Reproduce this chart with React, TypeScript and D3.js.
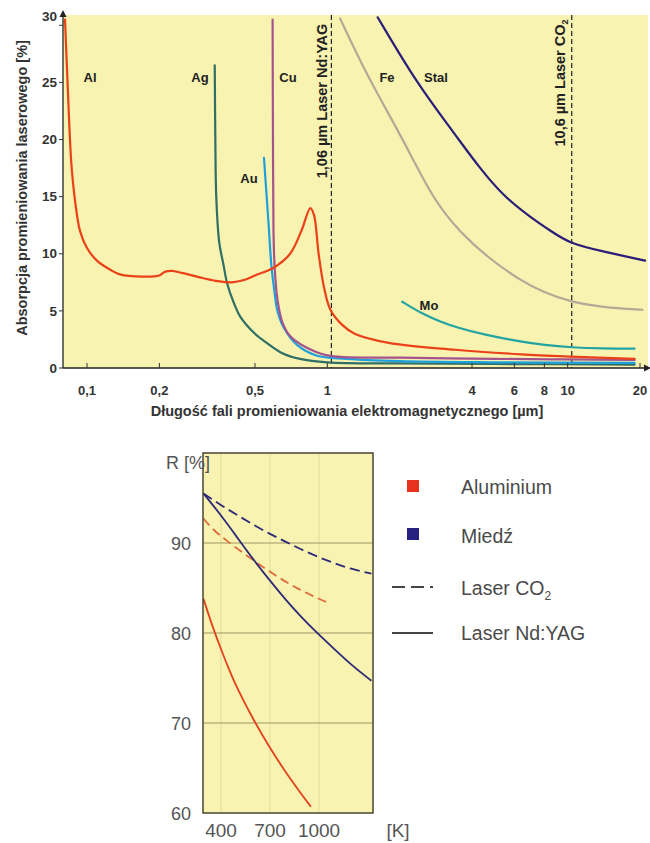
import React, { useRef, useEffect } from 'react';
import * as d3 from 'd3';

type Pt = [number, number];

// --- top chart: absorption vs wavelength [µm, %] ---
const alCurve: Pt[] = [
  [0.081, 30.5], [0.083, 25], [0.086, 18], [0.089, 14.8], [0.0935, 12], [0.1, 10.5], [0.11, 9.4],
  [0.125, 8.6], [0.137, 8.2], [0.17, 8.0], [0.2, 8.1], [0.21, 8.4], [0.225, 8.5], [0.25, 8.3],
  [0.3, 7.9], [0.35, 7.6], [0.4, 7.5], [0.45, 7.7], [0.5, 8.1], [0.6, 8.8], [0.7, 10.0],
  [0.78, 12], [0.85, 14.0], [0.88, 13.4], [0.92, 10], [0.97, 7], [1.03, 5.1], [1.15, 3.8],
  [1.3, 3.0], [1.8, 2.2], [3.4, 1.6], [6.4, 1.2], [10.3, 1.0], [19, 0.8],
];
const agCurve: Pt[] = [
  [0.34, 26.5], [0.342, 20], [0.345, 15], [0.355, 11], [0.37, 9], [0.383, 7.4], [0.41, 5.6],
  [0.434, 4.5], [0.5, 3], [0.56, 2.2], [0.65, 1.3], [0.77, 0.8], [1, 0.5], [2, 0.4], [5, 0.35], [19, 0.3],
];
const cuCurve: Pt[] = [
  [0.592, 30.5], [0.594, 20], [0.597, 12], [0.603, 9], [0.62, 6], [0.65, 4], [0.7, 2.8],
  [0.8, 1.9], [1, 1.1], [2, 0.9], [5, 0.8], [10, 0.75], [19, 0.7],
];
const auCurve: Pt[] = [
  [0.545, 18.4], [0.555, 16], [0.57, 12.5], [0.585, 9], [0.6, 7], [0.62, 5], [0.66, 3.5],
  [0.75, 2], [0.9, 1.1], [1.2, 0.8], [2, 0.6], [5, 0.5], [19, 0.45],
];
const moCurve: Pt[] = [
  [2.05, 5.8], [2.5, 4.7], [3, 4.0], [3.4, 3.6], [4.5, 2.9], [6.4, 2.3], [8, 2.0],
  [10.3, 1.8], [14, 1.7], [19, 1.7],
];
const feCurve: Pt[] = [
  [1.13, 30.6], [1.47, 25.5], [2.07, 20], [2.76, 14.7], [3.6, 11.8], [4.64, 9.7],
  [6.3, 7.7], [8, 6.6], [10.2, 5.8], [14, 5.3], [20.5, 5.1],
];
const stalCurve: Pt[] = [
  [1.62, 30.7], [2.36, 24.9], [3.36, 20.6], [4.3, 17.5], [5.43, 15], [7, 13.2],
  [8.5, 12], [10.2, 10.9], [14, 10.2], [21, 9.4],
];
const topXTicks = [0.1, 0.2, 0.5, 1, 4, 6, 8, 10, 20];
const topYTicks = [0, 5, 10, 15, 20, 25, 30];
const laserLines = [1.06, 10.6];

// --- bottom chart: reflectivity vs temperature [K, %] ---
const alYag: Pt[] = [
  [293, 83.8], [350, 80.6], [400, 78.2], [450, 75.9], [500, 73.8], [600, 70.3],
  [700, 67.2], [800, 64.4], [900, 61.9], [950, 60.7],
];
const alCo2: Pt[] = [
  [293, 92.7], [350, 91.5], [430, 90.3], [550, 88.7], [650, 87.4], [750, 86.2],
  [850, 85.1], [950, 84.2], [1050, 83.4],
];
const cuYag: Pt[] = [
  [293, 95.5], [400, 93.1], [500, 90.6], [600, 88.1], [700, 85.8], [800, 83.6],
  [900, 81.6], [1000, 79.8], [1100, 78.1], [1200, 76.4], [1320, 74.7],
];
const cuCo2: Pt[] = [
  [293, 95.5], [400, 94.2], [500, 93.1], [600, 92.0], [700, 91.0], [800, 90.1],
  [900, 89.2], [1000, 88.4], [1100, 87.7], [1200, 87.1], [1320, 86.6],
];
const botXTicks = [400, 700, 1000];
const botYTicks = [60, 70, 80, 90];

const YELLOW = '#f8f3b0';
const FONT = 'Liberation Sans, Arial, sans-serif';

export default function App() {
  const svgRef = useRef<SVGSVGElement>(null);

  useEffect(() => {
    const svg = d3.select(svgRef.current);
    svg.selectAll('*').remove();

    // ================= top chart =================
    const x = d3.scaleLog().domain([0.1, 20]).range([87, 640]);
    const y = d3.scaleLinear().domain([0, 30.9]).range([368, 15]);
    const left = 63, right = 648, top = 15, bottom = 368;

    svg.append('rect')
      .attr('x', left).attr('y', top)
      .attr('width', right - left).attr('height', bottom - top)
      .attr('fill', YELLOW);

    svg.append('clipPath').attr('id', 'topclip')
      .append('rect')
      .attr('x', left).attr('y', top - 2)
      .attr('width', right - left).attr('height', bottom - top + 2);

    // laser dashed lines
    svg.append('g').selectAll('line')
      .data(laserLines)
      .join('line')
      .attr('x1', d => x(d) - 2).attr('x2', d => x(d) - 2)
      .attr('y1', top).attr('y2', bottom)
      .attr('stroke', '#222')
      .attr('stroke-width', 1.2)
      .attr('stroke-dasharray', '5,3');

    const sharp = d3.line<Pt>()
      .x(d => x(d[0]))
      .y(d => y(d[1]))
      .curve(d3.curveCatmullRom.alpha(0.5));
    const smooth = d3.line<Pt>()
      .x(d => x(d[0]))
      .y(d => y(d[1]))
      .curve(d3.curveBasis);

    const series: [Pt[], string, boolean][] = [
      [feCurve, '#b3a996', true],
      [stalCurve, '#2b1d78', true],
      [moCurve, '#23a3a3', true],
      [agCurve, '#2f6f66', false],
      [auCurve, '#1ea0dc', false],
      [cuCurve, '#a4538c', false],
      [alCurve, '#ea4119', false],
    ];
    const curves = svg.append('g').attr('clip-path', 'url(#topclip)');
    series.forEach(([data, color, isSmooth]) => {
      curves.append('path')
        .datum(data)
        .attr('fill', 'none')
        .attr('stroke', color)
        .attr('stroke-width', 2.2)
        .attr('stroke-linecap', 'round')
        .attr('d', isSmooth ? smooth : sharp);
    });

    // axes
    svg.append('line')
      .attr('x1', left).attr('x2', right)
      .attr('y1', bottom).attr('y2', bottom)
      .attr('stroke', '#222').attr('stroke-width', 1.3);
    svg.append('path')
      .attr('d', `M${right + 3},${bottom} l-7,-3.5 l0,7 z`)
      .attr('fill', '#222');
    svg.append('line')
      .attr('x1', left).attr('x2', left)
      .attr('y1', bottom).attr('y2', top - 2)
      .attr('stroke', '#222').attr('stroke-width', 1.3);
    svg.append('path')
      .attr('d', `M${left},${top - 5} l-3.5,7 l7,0 z`)
      .attr('fill', '#222');

    svg.append('g').selectAll('line')
      .data(topXTicks)
      .join('line')
      .attr('x1', d => x(d)).attr('x2', d => x(d))
      .attr('y1', bottom).attr('y2', bottom - 5)
      .attr('stroke', '#333');
    svg.append('g').selectAll('text')
      .data(topXTicks)
      .join('text')
      .attr('x', d => x(d))
      .attr('y', 390)
      .attr('dy', '0.35em')
      .attr('text-anchor', 'middle')
      .attr('font-size', 13)
      .attr('font-weight', 'bold')
      .attr('font-family', FONT)
      .attr('fill', '#333')
      .text(d => String(d).replace('.', ','));

    svg.append('g').selectAll('line')
      .data(topYTicks)
      .join('line')
      .attr('x1', left - 4).attr('x2', left)
      .attr('y1', d => y(d)).attr('y2', d => y(d))
      .attr('stroke', '#333');
    svg.append('g').selectAll('text')
      .data(topYTicks)
      .join('text')
      .attr('x', 57)
      .attr('y', d => y(d) + (d === 30 ? -9 : 0))
      .attr('dy', '0.35em')
      .attr('text-anchor', 'end')
      .attr('font-size', 13.5)
      .attr('font-weight', 'bold')
      .attr('font-family', FONT)
      .attr('fill', '#333')
      .text(d => d);

    svg.append('text')
      .attr('transform', 'translate(22,188) rotate(-90)')
      .attr('text-anchor', 'middle')
      .attr('dy', '0.35em')
      .attr('font-size', 14.5)
      .attr('font-weight', 'bold')
      .attr('font-family', FONT)
      .attr('fill', '#333')
      .text('Absorpcja promieniowania laserowego [%]');

    svg.append('text')
      .attr('x', 347).attr('y', 411)
      .attr('text-anchor', 'middle')
      .attr('dy', '0.35em')
      .attr('font-size', 14.5)
      .attr('font-weight', 'bold')
      .attr('font-family', FONT)
      .attr('fill', '#333')
      .text('Długość fali promieniowania elektromagnetycznego [µm]');

    // curve labels
    const curveLabels: [string, number, number][] = [
      ['Al', 90, 77], ['Ag', 200, 77], ['Cu', 288, 77], ['Au', 249, 178],
      ['Fe', 387, 77], ['Stal', 436, 77], ['Mo', 429, 305],
    ];
    svg.append('g').selectAll('text')
      .data(curveLabels)
      .join('text')
      .attr('x', d => d[1]).attr('y', d => d[2])
      .attr('dy', '0.35em')
      .attr('text-anchor', 'middle')
      .attr('font-size', 13)
      .attr('font-weight', 'bold')
      .attr('font-family', FONT)
      .attr('fill', '#222')
      .text(d => d[0]);

    // laser labels (rotated)
    svg.append('text')
      .attr('transform', 'translate(322,101) rotate(-90)')
      .attr('text-anchor', 'middle')
      .attr('dy', '0.35em')
      .attr('font-size', 14.5)
      .attr('font-weight', 'bold')
      .attr('font-family', FONT)
      .attr('fill', '#222')
      .text('1,06 µm Laser Nd:YAG');
    const co2 = svg.append('text')
      .attr('transform', 'translate(560,83) rotate(-90)')
      .attr('text-anchor', 'middle')
      .attr('dy', '0.35em')
      .attr('font-size', 14.5)
      .attr('font-weight', 'bold')
      .attr('font-family', FONT)
      .attr('fill', '#222');
    co2.append('tspan').text('10,6 µm Laser CO');
    co2.append('tspan').attr('font-size', 9).attr('dy', 3).text('2');

    // ================= bottom chart =================
    const bx = d3.scaleLinear().domain([290, 1330]).range([203, 373]);
    const by = d3.scaleLinear().domain([60, 100]).range([813, 453]);
    const bl = 203, br = 373, bt = 453, bb = 813;

    svg.append('rect')
      .attr('x', bl).attr('y', bt)
      .attr('width', br - bl).attr('height', bb - bt)
      .attr('fill', YELLOW);

    svg.append('g').selectAll('line')
      .data(botXTicks)
      .join('line')
      .attr('x1', d => bx(d)).attr('x2', d => bx(d))
      .attr('y1', bt).attr('y2', bb)
      .attr('stroke', '#e4dc9a')
      .attr('stroke-width', 1);
    svg.append('g').selectAll('line')
      .data(botYTicks.slice(1))
      .join('line')
      .attr('x1', bl).attr('x2', br)
      .attr('y1', d => by(d)).attr('y2', d => by(d))
      .attr('stroke', '#9e9866')
      .attr('stroke-width', 1.2);

    const bline = d3.line<Pt>()
      .x(d => bx(d[0]))
      .y(d => by(d[1]))
      .curve(d3.curveBasis);

    const bseries: [Pt[], string, string | null][] = [
      [cuCo2, '#2e2878', '10,5'],
      [alCo2, '#dd6b3e', '9,5'],
      [cuYag, '#2e2878', null],
      [alYag, '#e2401e', null],
    ];
    bseries.forEach(([data, color, dash]) => {
      svg.append('path')
        .datum(data)
        .attr('fill', 'none')
        .attr('stroke', color)
        .attr('stroke-width', 1.8)
        .attr('stroke-dasharray', dash)
        .attr('d', bline);
    });

    svg.append('rect')
      .attr('x', bl).attr('y', bt)
      .attr('width', br - bl).attr('height', bb - bt)
      .attr('fill', 'none')
      .attr('stroke', '#4a4630')
      .attr('stroke-width', 1.5);

    svg.append('g').selectAll('text')
      .data(botYTicks)
      .join('text')
      .attr('x', 191)
      .attr('y', d => by(d) + 1)
      .attr('dy', '0.35em')
      .attr('text-anchor', 'end')
      .attr('font-size', 18)
      .attr('font-family', FONT)
      .attr('fill', '#555')
      .text(d => d);
    svg.append('text')
      .attr('x', 166).attr('y', 463)
      .attr('dy', '0.35em')
      .attr('font-size', 18)
      .attr('font-family', FONT)
      .attr('fill', '#555')
      .text('R [%]');

    svg.append('g').selectAll('text')
      .data(botXTicks)
      .join('text')
      .attr('x', d => bx(d))
      .attr('y', 830)
      .attr('dy', '0.35em')
      .attr('text-anchor', 'middle')
      .attr('font-size', 19)
      .attr('font-family', FONT)
      .attr('fill', '#555')
      .text(d => d);
    svg.append('text')
      .attr('x', 398).attr('y', 830)
      .attr('dy', '0.35em')
      .attr('text-anchor', 'middle')
      .attr('font-size', 19)
      .attr('font-family', FONT)
      .attr('fill', '#555')
      .text('[K]');

    // legend
    const legend = svg.append('g').attr('font-family', FONT);
    const lx = 461;
    legend.append('rect').attr('x', 407).attr('y', 480).attr('width', 12).attr('height', 12).attr('fill', '#e8321e');
    legend.append('rect').attr('x', 407).attr('y', 528).attr('width', 12).attr('height', 12).attr('fill', '#262080');
    legend.append('line').attr('x1', 392).attr('x2', 433).attr('y1', 587).attr('y2', 587)
      .attr('stroke', '#444').attr('stroke-width', 1.8).attr('stroke-dasharray', '13,6');
    legend.append('line').attr('x1', 392).attr('x2', 433).attr('y1', 633).attr('y2', 633)
      .attr('stroke', '#444').attr('stroke-width', 1.8);

    const legendText: [string, number][] = [
      ['Aluminium', 487], ['Miedź', 536], ['Laser Nd:YAG', 633],
    ];
    legend.selectAll('text.lt')
      .data(legendText)
      .join('text')
      .attr('class', 'lt')
      .attr('x', lx).attr('y', d => d[1])
      .attr('dy', '0.35em')
      .attr('font-size', 19.5)
      .attr('fill', '#4a4a4a')
      .text(d => d[0]);
    const lco2 = legend.append('text')
      .attr('x', lx).attr('y', 588)
      .attr('dy', '0.35em')
      .attr('font-size', 19.5)
      .attr('fill', '#4a4a4a');
    lco2.append('tspan').text('Laser CO');
    lco2.append('tspan').attr('font-size', 12).attr('dy', 5).text('2');
  }, []);

  return (
    <svg
      ref={svgRef}
      width={650}
      height={843}
      style={{ position: 'absolute', left: 0, top: 0, background: '#fff' }}
    />
  );
}
